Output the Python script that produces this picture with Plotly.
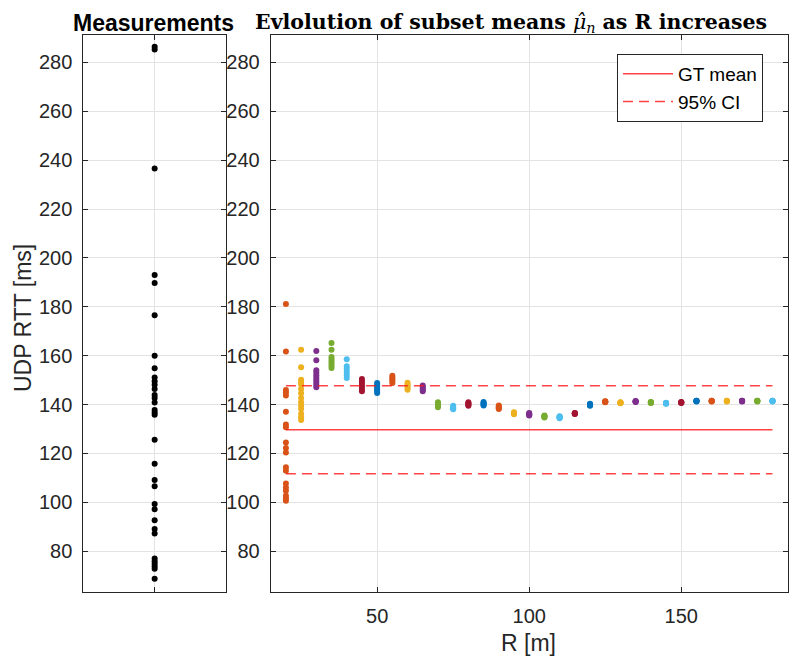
import plotly.graph_objects as go

# ---------------- data ----------------
measurements = [286.4, 285.3, 236.6, 193.0, 189.7, 176.5, 160.0, 154.8, 151.1, 149.5,
                148.1, 146.4, 143.9, 142.7, 140.8, 137.8, 136.7, 135.8, 125.6, 115.8,
                109.1, 106.6, 99.3, 97.2, 92.7, 89.1, 87.2, 77.0, 75.9, 74.9, 73.8,
                72.8, 68.7]

R_values = [20, 25, 30, 35, 40, 45, 50, 55, 60, 65, 70, 75, 80, 85, 90, 95, 100,
            105, 110, 115, 120, 125, 130, 135, 140, 145, 150, 155, 160, 165, 170,
            175, 180]

subset_means = [
    [181.1, 161.7, 146.0, 144.9, 143.7, 137.1, 131.8, 130.7, 124.5, 122.2, 120.4,
     114.3, 112.9, 107.7, 106.1, 104.7, 102.7, 101.7, 100.6],
    [162.4, 155.3, 150.1, 149.2, 148.2, 146.4, 144.6, 142.7, 140.9, 139.5, 138.2,
     136.2, 134.8, 133.7],
    [161.9, 158.1, 154.0, 153.0, 152.0, 151.0, 150.0, 149.0, 148.0, 147.1],
    [165.2, 162.4, 159.5, 158.6, 157.7, 156.8, 155.9, 155.0],
    [158.5, 155.7, 154.5, 153.3, 152.1, 150.9],
    [150.4, 149.4, 148.4, 147.4, 146.4, 145.4],
    [148.8, 148.0, 147.2, 146.4, 145.6, 144.7],
    [151.8, 151.1, 150.3, 149.6, 148.8],
    [148.9, 148.2, 147.5, 146.8, 146.1],
    [147.8, 147.2, 146.6, 146.0, 145.4],
    [140.9, 140.4, 139.9, 139.4, 138.9],
    [139.5, 139.1, 138.8, 138.4, 138.1],
    [140.9, 140.5, 140.2, 139.8, 139.5],
    [141.0, 140.6, 140.3, 139.9, 139.6],
    [139.6, 139.2, 138.9, 138.5, 138.2],
    [136.8, 136.6, 136.4, 136.2, 136.0],
    [136.5, 136.2, 136.0, 135.7, 135.5],
    [135.5, 135.3, 135.1, 134.9, 134.7],
    [135.2, 135.0, 134.8, 134.6, 134.4],
    [136.5, 136.4, 136.3, 136.2, 136.1],
    [140.3, 140.1, 139.9, 139.7, 139.5],
    [141.3, 141.2, 141.1, 141.0, 140.9],
    [140.9, 140.8, 140.7, 140.6, 140.5],
    [141.4, 141.3, 141.2, 141.1, 141.0],
    [141.0, 140.9, 140.8, 140.7, 140.6],
    [140.7, 140.6, 140.5, 140.4, 140.3],
    [141.0, 140.9, 140.8, 140.7, 140.6],
    [141.6, 141.5, 141.4, 141.3, 141.2],
    [141.6, 141.5, 141.4, 141.3, 141.2],
    [141.6, 141.5, 141.4, 141.3, 141.2],
    [141.6, 141.5, 141.4, 141.3, 141.2],
    [141.6, 141.5, 141.4, 141.3, 141.2],
    [141.6, 141.5, 141.4, 141.3, 141.2],
]

gt_mean = 129.7
ci_half = 18.0

y_ticks = [80, 100, 120, 140, 160, 180, 200, 220, 240, 260, 280]
x_ticks = [50, 100, 150]

# ---------------- styling ----------------
cycle = ["#D95319", "#EDB120", "#7E2F8E", "#77AC30", "#4DBEEE", "#A2142F", "#0072BD"]
axis_color = "#262626"
grid_color = "#e3e3e3"
font_family = "Liberation Sans, Arial, Helvetica, sans-serif"
line_red = "rgba(255,20,20,0.8)"

# the page body has an 8px margin; lay out in page pixels and convert
OFF = 8
W, H = 797 - OFF, 662 - OFF
def px_x(p):
    return (p - OFF) / W
def px_y(p):
    return 1 - (p - OFF) / H

top_px, bot_px = 35, 592
left1, right1 = 83.3, 226.0
left2, right2 = 270.7, 787.7
yrange = [63.3, 291.2]

fig = go.Figure()

# Left panel: measurements
fig.add_trace(go.Scatter(
    x=[0] * len(measurements), y=measurements, mode="markers",
    marker=dict(color="black", size=6), showlegend=False,
    xaxis="x", yaxis="y"))

# Right panel: subset means per R
for i, (r, vals) in enumerate(zip(R_values, subset_means)):
    fig.add_trace(go.Scatter(
        x=[r] * len(vals), y=vals, mode="markers",
        marker=dict(color=cycle[i % len(cycle)], size=6),
        showlegend=False, xaxis="x2", yaxis="y2"))

r0, r1 = min(R_values), max(R_values)
fig.add_trace(go.Scatter(
    x=[r0, r1], y=[gt_mean, gt_mean], mode="lines",
    line=dict(color=line_red, width=1.5), name="GT mean",
    xaxis="x2", yaxis="y2"))
fig.add_trace(go.Scatter(
    x=[r0, r1, None, r0, r1],
    y=[gt_mean + ci_half, gt_mean + ci_half, None, gt_mean - ci_half, gt_mean - ci_half],
    mode="lines", line=dict(color=line_red, width=1.5, dash="10px,6px"),
    name="95% CI", xaxis="x2", yaxis="y2"))

common_axis = dict(
    showline=True, linecolor=axis_color, linewidth=1, mirror="ticks",
    ticks="inside", ticklen=5, tickcolor=axis_color,
    showgrid=True, gridcolor=grid_color, gridwidth=1, zeroline=False,
    tickfont=dict(family=font_family, size=20, color=axis_color),
)

fig.update_layout(
    width=W, height=H,
    margin=dict(l=0, r=0, t=0, b=0),
    paper_bgcolor="white", plot_bgcolor="white",
    font=dict(family=font_family, color=axis_color),
    xaxis=dict(domain=[px_x(left1), px_x(right1)], range=[-1, 1],
               tickvals=[0], showticklabels=False, anchor="y", **common_axis),
    yaxis=dict(domain=[px_y(bot_px), px_y(top_px)], range=yrange,
               tickvals=y_ticks, anchor="x", ticklabelstandoff=6, **common_axis),
    xaxis2=dict(domain=[px_x(left2), px_x(right2)], range=[15, 185],
                tickvals=x_ticks, anchor="y2", ticklabelstandoff=6, **common_axis),
    yaxis2=dict(domain=[px_y(bot_px), px_y(top_px)], range=yrange,
                tickvals=y_ticks, anchor="x2", ticklabelstandoff=6, **common_axis),
    legend=dict(x=px_x(617), y=px_y(54), xanchor="left", yanchor="top",
                bgcolor="white", bordercolor=axis_color, borderwidth=1,
                font=dict(family=font_family, size=19, color="black"),
                itemwidth=50, tracegroupgap=0),
    annotations=[
        dict(text="<b>Measurements</b>", x=px_x(153), y=1,
             xref="paper", yref="paper", showarrow=False,
             xanchor="center", yanchor="top",
             font=dict(family=font_family, size=23, color="black")),
        dict(text="<b>Evlolution of subset means </b><i>μ̂</i><sub><i>n</i></sub><b> as R increases</b>",
             x=px_x(511), y=1, xref="paper", yref="paper", showarrow=False,
             xanchor="center", yanchor="top",
             font=dict(family="DejaVu Serif, serif", size=20.5, color="black")),
        dict(text="UDP RTT [ms]", x=0, y=px_y(318), xref="paper", yref="paper",
             showarrow=False, textangle=-90, xanchor="left", yanchor="middle",
             font=dict(family=font_family, size=23, color=axis_color)),
        dict(text="R [m]", x=px_x(528), y=px_y(643), xref="paper", yref="paper",
             showarrow=False, xanchor="center", yanchor="middle",
             font=dict(family=font_family, size=23, color=axis_color)),
    ],
)

fig.write_html("out.html")
